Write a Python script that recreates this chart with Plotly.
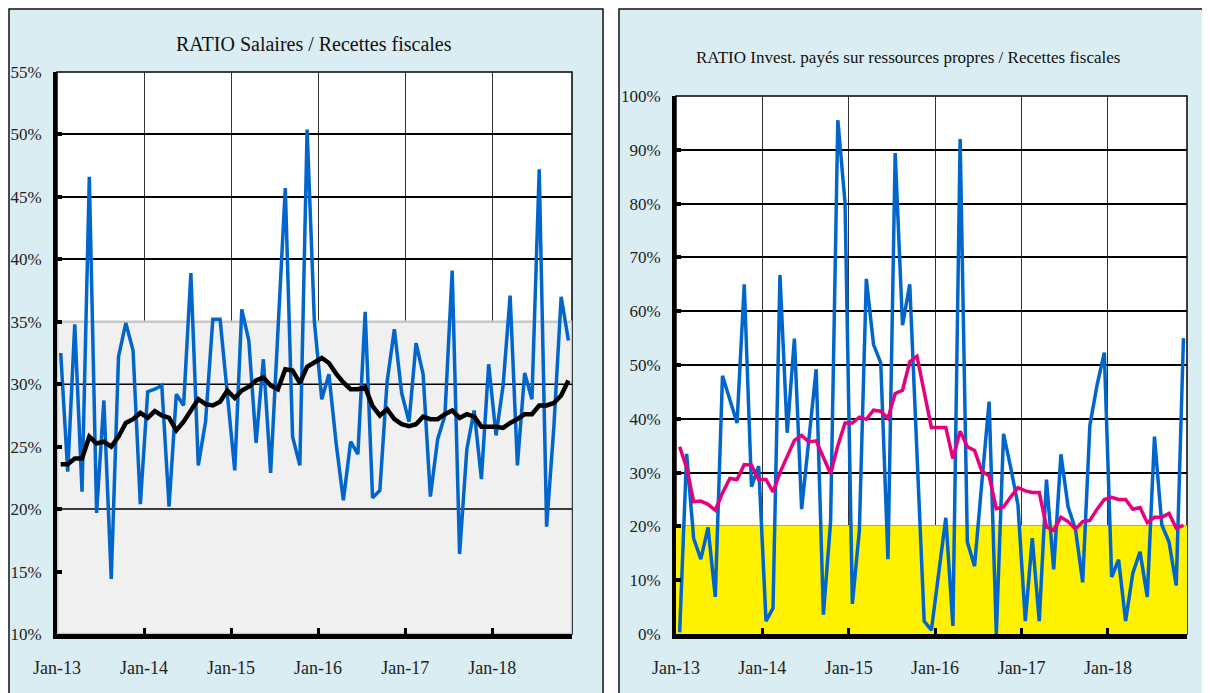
import pandas as pd
import plotly.graph_objects as go

# monthly series, Jan-13 .. Nov-18
months = pd.date_range("2013-01-01", periods=71, freq="MS")

salaires = [32.5, 23.0, 34.8, 21.4, 46.6, 19.7, 28.7, 14.4, 32.2, 34.9, 32.7, 20.4,
            29.4, 29.6, 29.9, 20.2, 29.2, 28.3, 38.9, 23.5, 27.0, 35.2, 35.2, 29.5,
            23.1, 36.0, 33.5, 25.3, 32.0, 22.9, 34.0, 45.7, 25.8, 23.5, 50.4, 35.0,
            28.8, 30.8, 25.3, 20.7, 25.4, 24.4, 35.8, 20.9, 21.5, 30.2, 34.4, 29.3,
            27.0, 33.3, 30.8, 21.0, 25.6, 27.5, 39.1, 16.4, 24.8, 27.9, 22.4, 31.6,
            25.9, 29.9, 37.1, 23.5, 30.9, 28.8, 47.2, 18.6, 26.6, 37.0, 33.5]
salaires_moy = [23.6, 23.6, 24.05, 24.05, 25.8, 25.25, 25.4, 25.0, 25.8, 26.9, 27.2, 27.7,
                27.3, 27.85, 27.5, 27.3, 26.3, 27.0, 27.9, 28.8, 28.4, 28.3, 28.6, 29.5,
                28.9, 29.5, 29.8, 30.3, 30.55, 29.9, 29.6, 31.2, 31.1, 30.1, 31.4, 31.7,
                32.1, 31.7, 30.85, 30.15, 29.6, 29.6, 29.75, 28.25, 27.5, 28.0, 27.2, 26.8,
                26.65, 26.8, 27.4, 27.2, 27.2, 27.6, 27.9, 27.3, 27.6, 27.4, 26.6, 26.6,
                26.6, 26.5, 26.9, 27.2, 27.6, 27.6, 28.3, 28.3, 28.5, 29.1, 30.3]

invest = [0.3, 33.5, 17.8, 13.9, 19.8, 6.9, 48.0, 43.8, 39.2, 65.0, 27.4, 31.2,
          2.4, 4.8, 66.7, 37.4, 54.9, 23.2, 36.0, 49.2, 3.6, 20.9, 95.5, 80.2,
          5.6, 19.2, 66.0, 53.8, 50.4, 13.9, 89.4, 57.4, 65.0, 33.0, 2.4, 0.7,
          11.0, 21.6, 1.5, 92.0, 17.1, 12.6, 28.0, 43.2, 0.0, 37.2, 30.9, 24.0,
          2.4, 17.8, 2.4, 28.7, 12.0, 33.4, 23.6, 19.5, 9.6, 38.8, 46.3, 52.3,
          10.6, 13.8, 2.4, 11.3, 15.3, 6.9, 36.7, 20.3, 17.1, 9.0, 55.0]
invest_moy = [34.8, 30.9, 24.6, 24.7, 24.1, 23.0, 26.2, 28.9, 28.7, 31.5, 31.4, 28.7,
              28.7, 26.4, 30.0, 32.9, 36.0, 36.9, 35.7, 35.9, 32.9, 29.8, 35.0, 39.2,
              39.2, 40.3, 39.9, 41.6, 41.4, 40.1, 44.7, 45.3, 50.6, 51.6, 45.0, 38.4,
              38.4, 38.4, 32.6, 37.7, 34.8, 34.1, 30.3, 29.4, 23.3, 23.6, 25.5, 27.2,
              26.6, 26.3, 26.3, 19.9, 19.3, 21.7, 20.9, 19.5, 20.9, 21.1, 23.2, 25.0,
              25.4, 25.0, 25.0, 23.2, 23.5, 20.7, 21.7, 21.7, 22.4, 19.7, 20.2]

# shaded "norm" zones and the extra reference lines of the left chart
zone_salaires = (10, 35)
lines_salaires = [30, 20]
zone_invest = (0, 20)

x_start, x_end = "2013-01-01", "2018-12-01"
year_ticks = pd.date_range(x_start, "2018-01-01", freq="YS")

W, H = 1210, 693
FONT = "Liberation Serif"
BLUE = "#0066CC"
PANEL_BG = "#DAEDF3"

# page body has an 8px margin, so figure coords = screen coords - 8
OFF = 8
left_box = (57 - OFF, 572 - OFF, 72 - OFF, 634 - OFF)
right_box = (676 - OFF, 1187 - OFF, 96 - OFF, 634 - OFF)


def px(x):
    return (x - OFF) / W


def py(y):
    return 1 - (y - OFF) / H


def xdom(b):
    return [b[0] / W, b[1] / W]


def ydom(b):
    return [1 - b[3] / H, 1 - b[2] / H]


def zone(lo, hi, color, xa, ya, edge):
    return go.Scatter(x=[x_start, x_end, x_end, x_start, x_start], y=[lo, lo, hi, hi, lo],
                      fill="toself", fillcolor=color, mode="lines",
                      line=dict(color=edge, width=2.5), hoverinfo="skip",
                      xaxis=xa, yaxis=ya, showlegend=False)


fig = go.Figure()

# left chart
fig.add_trace(zone(*zone_salaires, "#F0F0F0", "x", "y", "#C8C8C8"))
for lvl in lines_salaires:
    fig.add_trace(go.Scatter(x=[x_start, x_end], y=[lvl, lvl], mode="lines", hoverinfo="skip",
                             line=dict(color="black", width=1.5), xaxis="x", yaxis="y", showlegend=False))
fig.add_trace(go.Scatter(x=months, y=salaires, mode="lines", xperiod="M1", xperiodalignment="middle",
                         line=dict(color=BLUE, width=3.5), xaxis="x", yaxis="y", showlegend=False))
fig.add_trace(go.Scatter(x=months, y=salaires_moy, mode="lines", xperiod="M1", xperiodalignment="middle",
                         line=dict(color="black", width=4.5), xaxis="x", yaxis="y", showlegend=False))

# right chart
fig.add_trace(zone(*zone_invest, "#FFF200", "x2", "y2", "#FFF200"))
fig.add_trace(go.Scatter(x=months, y=invest, mode="lines", xperiod="M1", xperiodalignment="middle",
                         line=dict(color=BLUE, width=3.5), xaxis="x2", yaxis="y2", showlegend=False))
fig.add_trace(go.Scatter(x=months, y=invest_moy, mode="lines", xperiod="M1", xperiodalignment="middle",
                         line=dict(color="#E6007E", width=3.5), xaxis="x2", yaxis="y2", showlegend=False))

xcommon = dict(type="date", range=[x_start, x_end], tickvals=year_ticks, tickformat="%b-%y",
               showgrid=True, gridcolor="#333", gridwidth=1.3, showline=True, linecolor="black", linewidth=5,
               ticks="inside", ticklen=6, tickwidth=3, tickcolor="black", ticklabelstandoff=13,
               tickfont=dict(family=FONT, size=18, color="#222"), zeroline=False, automargin=False)
ycommon = dict(showgrid=True, gridcolor="black", gridwidth=1.5, showline=True, linecolor="black", linewidth=4,
               ticks="inside", ticklen=5, tickwidth=4, tickcolor="black", ticksuffix="%", ticklabelstandoff=8,
               tickfont=dict(family=FONT, size=17, color="#222"), zeroline=False, automargin=False)

fig.update_layout(
    width=W, height=H, autosize=False,
    margin=dict(l=0, r=0, t=0, b=0, pad=0, autoexpand=False),
    paper_bgcolor="white", plot_bgcolor="rgba(0,0,0,0)",
    xaxis=dict(domain=xdom(left_box), anchor="y", **xcommon),
    yaxis=dict(domain=ydom(left_box), anchor="x", range=[10, 55], dtick=5, **ycommon),
    xaxis2=dict(domain=xdom(right_box), anchor="y2", **xcommon),
    yaxis2=dict(domain=ydom(right_box), anchor="x2", range=[0, 100], dtick=10, **ycommon),
)

shapes = []
# panel frames
shapes.append(dict(type="rect", xref="paper", yref="paper", x0=px(9), x1=px(603), y0=-0.1, y1=py(9),
                   fillcolor=PANEL_BG, line=dict(color="#111", width=1.5), layer="below"))
shapes.append(dict(type="rect", xref="paper", yref="paper", x0=px(619), x1=1.1, y0=-0.1, y1=py(9),
                   fillcolor=PANEL_BG, line=dict(color="#111", width=1.5), layer="below"))
# white plot areas
for b in (left_box, right_box):
    shapes.append(dict(type="rect", xref="paper", yref="paper", x0=b[0] / W, x1=b[1] / W,
                       y0=1 - b[3] / H, y1=1 - b[2] / H, fillcolor="white",
                       line=dict(color="black", width=1.5), layer="below"))
fig.update_layout(shapes=shapes)

fig.add_annotation(text="RATIO Salaires / Recettes fiscales", xref="paper", yref="paper",
                   x=px(314), y=py(44), xanchor="center", yanchor="middle", showarrow=False,
                   font=dict(family=FONT, size=20, color="#111"))
fig.add_annotation(text="RATIO Invest. payés sur ressources propres / Recettes fiscales", xref="paper",
                   yref="paper", x=px(908), y=py(57), xanchor="center", yanchor="middle", showarrow=False,
                   font=dict(family=FONT, size=17, color="#111"))

fig.write_html("out.html")
